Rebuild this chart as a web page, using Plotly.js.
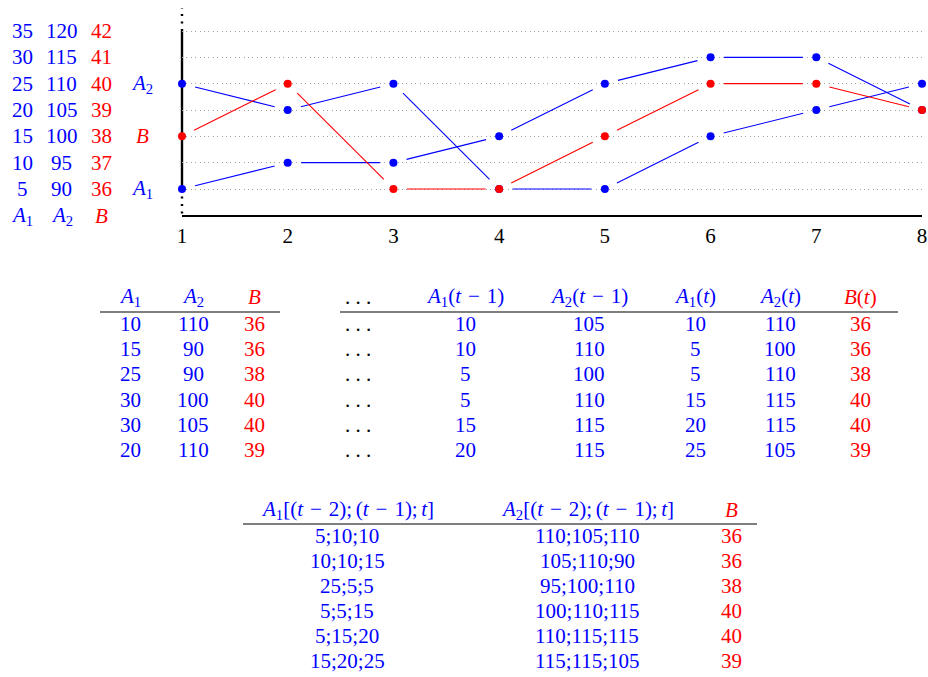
<!DOCTYPE html>
<html><head><meta charset="utf-8">
<script src="https://cdn.plot.ly/plotly-3.0.1.min.js"></script>
<style>html,body{margin:0;padding:0;background:#fff}</style>
</head><body><div id="chart" style="width:928px;height:677px"></div>
<script>
// ---------- data ----------
const xVals = [1, 2, 3, 4, 5, 6, 7, 8];
const a1Series = [5, 10, 10, 15, 25, 30, 30, 20];
const a2Series = [110, 105, 110, 90, 90, 100, 105, 110];
const bSeries = [38, 40, 36, 36, 38, 40, 40, 39];

const a1Ticks = [5, 10, 15, 20, 25, 30, 35];
const a2Ticks = [90, 95, 100, 105, 110, 115, 120];
const bTicks = [36, 37, 38, 39, 40, 41, 42];

const t1A1 = [10, 15, 25, 30, 30, 20];
const t1A2 = [110, 90, 90, 100, 105, 110];
const t1B = [36, 36, 38, 40, 40, 39];

const t2A1prev = [10, 10, 5, 5, 15, 20];
const t2A2prev = [105, 110, 100, 110, 115, 115];
const t2A1 = [10, 5, 5, 15, 20, 25];
const t2A2 = [110, 100, 110, 115, 115, 105];
const t2B = [36, 36, 38, 40, 40, 39];

const t3A1 = ["5;10;10", "10;10;15", "25;5;5", "5;5;15", "5;15;20", "15;20;25"];
const t3A2 = ["110;105;110", "105;110;90", "95;100;110", "100;110;115", "110;115;115", "115;115;105"];
const t3B = [36, 36, 38, 40, 40, 39];

// ---------- layout constants ----------
const W = 928, H = 677;
const plotL = 182, plotR = 922, plotT = 8, plotB = 215;
const rowTop = 31, rowBot = 189;
const BLUE = '#0000ff', RED = '#ff0000';
const FONT = 'Liberation Serif, Times New Roman, serif';
const FS = 21;
const px = v => v / W, py = v => 1 - v / H;

function rangeFor(ticks) {
  const u = (ticks[ticks.length - 1] - ticks[0]) / (rowBot - rowTop);
  return [ticks[0] - (plotB - rowBot) * u, ticks[ticks.length - 1] + (rowTop - plotT) * u];
}
const pxPerX = (plotR - plotL) / (xVals[xVals.length - 1] - xVals[0]);
function pxPerY(ticks) { return (rowBot - rowTop) / (ticks[ticks.length - 1] - ticks[0]); }

const SHORT = 13.5;
function shortened(xs, ys, ticks) {
  const ky = pxPerY(ticks);
  const ox = [], oy = [];
  for (let i = 0; i < xs.length - 1; i++) {
    const dx = (xs[i + 1] - xs[i]) * pxPerX, dy = (ys[i + 1] - ys[i]) * ky;
    const L = Math.hypot(dx, dy), t = SHORT / L;
    ox.push(xs[i] + (xs[i + 1] - xs[i]) * t, xs[i + 1] - (xs[i + 1] - xs[i]) * t, null);
    oy.push(ys[i] + (ys[i + 1] - ys[i]) * t, ys[i + 1] - (ys[i + 1] - ys[i]) * t, null);
  }
  return {x: ox, y: oy};
}

const r1 = rangeFor(a1Ticks);
const traces = [];
const sA1 = shortened(xVals, a1Series, a1Ticks);
const sA2 = shortened(xVals, a2Series, a2Ticks);
const sB = shortened(xVals, bSeries, bTicks);
traces.push({x: sA1.x, y: sA1.y, mode: 'lines', line: {color: BLUE, width: 1.1}, yaxis: 'y', connectgaps: false, showlegend: false});
traces.push({x: sA2.x, y: sA2.y, mode: 'lines', line: {color: BLUE, width: 1.1}, yaxis: 'y2', connectgaps: false, showlegend: false});
traces.push({x: sB.x, y: sB.y, mode: 'lines', line: {color: RED, width: 1.1}, yaxis: 'y3', connectgaps: false, showlegend: false});
traces.push({x: xVals, y: a1Series, mode: 'markers', marker: {color: BLUE, size: 8}, yaxis: 'y', cliponaxis: false, showlegend: false});
traces.push({x: xVals, y: a2Series, mode: 'markers', marker: {color: BLUE, size: 8}, yaxis: 'y2', cliponaxis: false, showlegend: false});
traces.push({x: xVals, y: bSeries, mode: 'markers', marker: {color: RED, size: 8}, yaxis: 'y3', cliponaxis: false, showlegend: false});

// ---------- annotations ----------
const ann = [];
function txt(x, y, text, color, xref, yref) {
  ann.push({x: x, y: y, xref: xref || 'paper', yref: yref || 'paper', text: text, showarrow: false,
    xanchor: 'center', yanchor: 'middle', font: {family: FONT, size: FS, color: color}});
}
const A1 = '<i>A</i><sub>1</sub>', A2 = '<i>A</i><sub>2</sub>', Bt = '<i>B</i>';
a1Ticks.forEach(v => txt(px(22), v, String(v), BLUE, 'paper', 'y'));
a2Ticks.forEach(v => txt(px(62), v, String(v), BLUE, 'paper', 'y2'));
bTicks.forEach(v => txt(px(101), v, String(v), RED, 'paper', 'y3'));
txt(px(22), py(216), A1, BLUE);
txt(px(62), py(216), A2, BLUE);
txt(px(101), py(216), Bt, RED);
txt(px(142), a2Series[0], A2, BLUE, 'paper', 'y2');
txt(px(142), bSeries[0], Bt, RED, 'paper', 'y3');
txt(px(142), a1Series[0], A1, BLUE, 'paper', 'y');

// table 1
const rowsY = [324, 349.2, 374.4, 399.6, 424.8, 450];
const hdrY = 297;
[[130, A1, BLUE], [193, A2, BLUE], [255, Bt, RED]].forEach(h => txt(px(h[0]), py(hdrY), h[1], h[2]));
rowsY.forEach((y, i) => {
  txt(px(130), py(y), String(t1A1[i]), BLUE);
  txt(px(193), py(y), String(t1A2[i]), BLUE);
  txt(px(255), py(y), String(t1B[i]), RED);
});
// table 2
const dots = '. . .';
const m = '\u2004\u2212\u2004';
[[358, dots, '#000'], [465, A1 + '(<i>t</i>' + m + '1)', BLUE], [589, A2 + '(<i>t</i>' + m + '1)', BLUE],
 [695, A1 + '(<i>t</i>)', BLUE], [780, A2 + '(<i>t</i>)', BLUE], [860, Bt + '(<i>t</i>)', RED]]
  .forEach(h => txt(px(h[0]), py(hdrY), h[1], h[2]));
rowsY.forEach((y, i) => {
  txt(px(358), py(y), dots, '#000');
  txt(px(465), py(y), String(t2A1prev[i]), BLUE);
  txt(px(589), py(y), String(t2A2prev[i]), BLUE);
  txt(px(695), py(y), String(t2A1[i]), BLUE);
  txt(px(780), py(y), String(t2A2[i]), BLUE);
  txt(px(860), py(y), String(t2B[i]), RED);
});
// table 3
const rows3Y = [536, 561, 586, 611, 636, 661];
const hdr3Y = 510;
const win = '[(<i>t</i>' + m + '2);\u2006(<i>t</i>' + m + '1);\u2006<i>t</i>]';
[[347, A1 + win, BLUE], [587, A2 + win, BLUE], [731, Bt, RED]].forEach(h => txt(px(h[0]), py(hdr3Y), h[1], h[2]));
rows3Y.forEach((y, i) => {
  txt(px(347), py(y), t3A1[i], BLUE);
  txt(px(587), py(y), t3A2[i], BLUE);
  txt(px(731), py(y), String(t3B[i]), RED);
});

const shapes = [
  // vertical axis: solid between the outer ticks, dotted beyond
  {type: 'line', xref: 'paper', yref: 'y', x0: px(plotL), x1: px(plotL), y0: a1Ticks[0], y1: a1Ticks[a1Ticks.length - 1],
    line: {color: '#000', width: 2.4}, layer: 'below'},
  {type: 'line', xref: 'paper', yref: 'y', x0: px(plotL), x1: px(plotL), y0: a1Ticks[a1Ticks.length - 1], y1: r1[1],
    line: {color: '#000', width: 2.4, dash: '2px,5.5px'}, layer: 'below'},
  {type: 'line', xref: 'paper', yref: 'y', x0: px(plotL), x1: px(plotL), y0: a1Ticks[0], y1: r1[0],
    line: {color: '#000', width: 2.4, dash: '2px,5.5px'}, layer: 'below'},
  {type: 'line', xref: 'paper', yref: 'paper', x0: px(100), x1: px(280), y0: py(312), y1: py(312), line: {color: '#000', width: 1.2}},
  {type: 'line', xref: 'paper', yref: 'paper', x0: px(340), x1: px(898), y0: py(312), y1: py(312), line: {color: '#000', width: 1.2}},
  {type: 'line', xref: 'paper', yref: 'paper', x0: px(243), x1: px(757), y0: py(524), y1: py(524), line: {color: '#000', width: 1.2}}
];

const layout = {
  width: W, height: H, margin: {l: 0, r: 0, t: 0, b: 0}, showlegend: false,
  paper_bgcolor: '#fff', plot_bgcolor: '#fff',
  xaxis: {domain: [px(plotL), px(plotR)], range: [xVals[0], xVals[xVals.length - 1]], tickvals: xVals,
    ticktext: xVals.map(String), showgrid: false, zeroline: false, showline: true, linecolor: '#000', linewidth: 2.4,
    ticks: '', tickfont: {family: FONT, size: FS, color: '#000'}, fixedrange: true},
  yaxis: {domain: [py(plotB), py(plotT)], range: r1, tickvals: a1Ticks, showticklabels: false, showgrid: true,
    gridcolor: '#a0a0a0', griddash: '1px,3.4px', gridwidth: 1, zeroline: false, showline: false, ticks: '', fixedrange: true},
  yaxis2: {domain: [py(plotB), py(plotT)], overlaying: 'y', range: rangeFor(a2Ticks), visible: false, fixedrange: true},
  yaxis3: {domain: [py(plotB), py(plotT)], overlaying: 'y', range: rangeFor(bTicks), visible: false, fixedrange: true},
  annotations: ann, shapes: shapes
};
Plotly.newPlot('chart', traces, layout, {staticPlot: true, displayModeBar: false});
</script></body></html>
